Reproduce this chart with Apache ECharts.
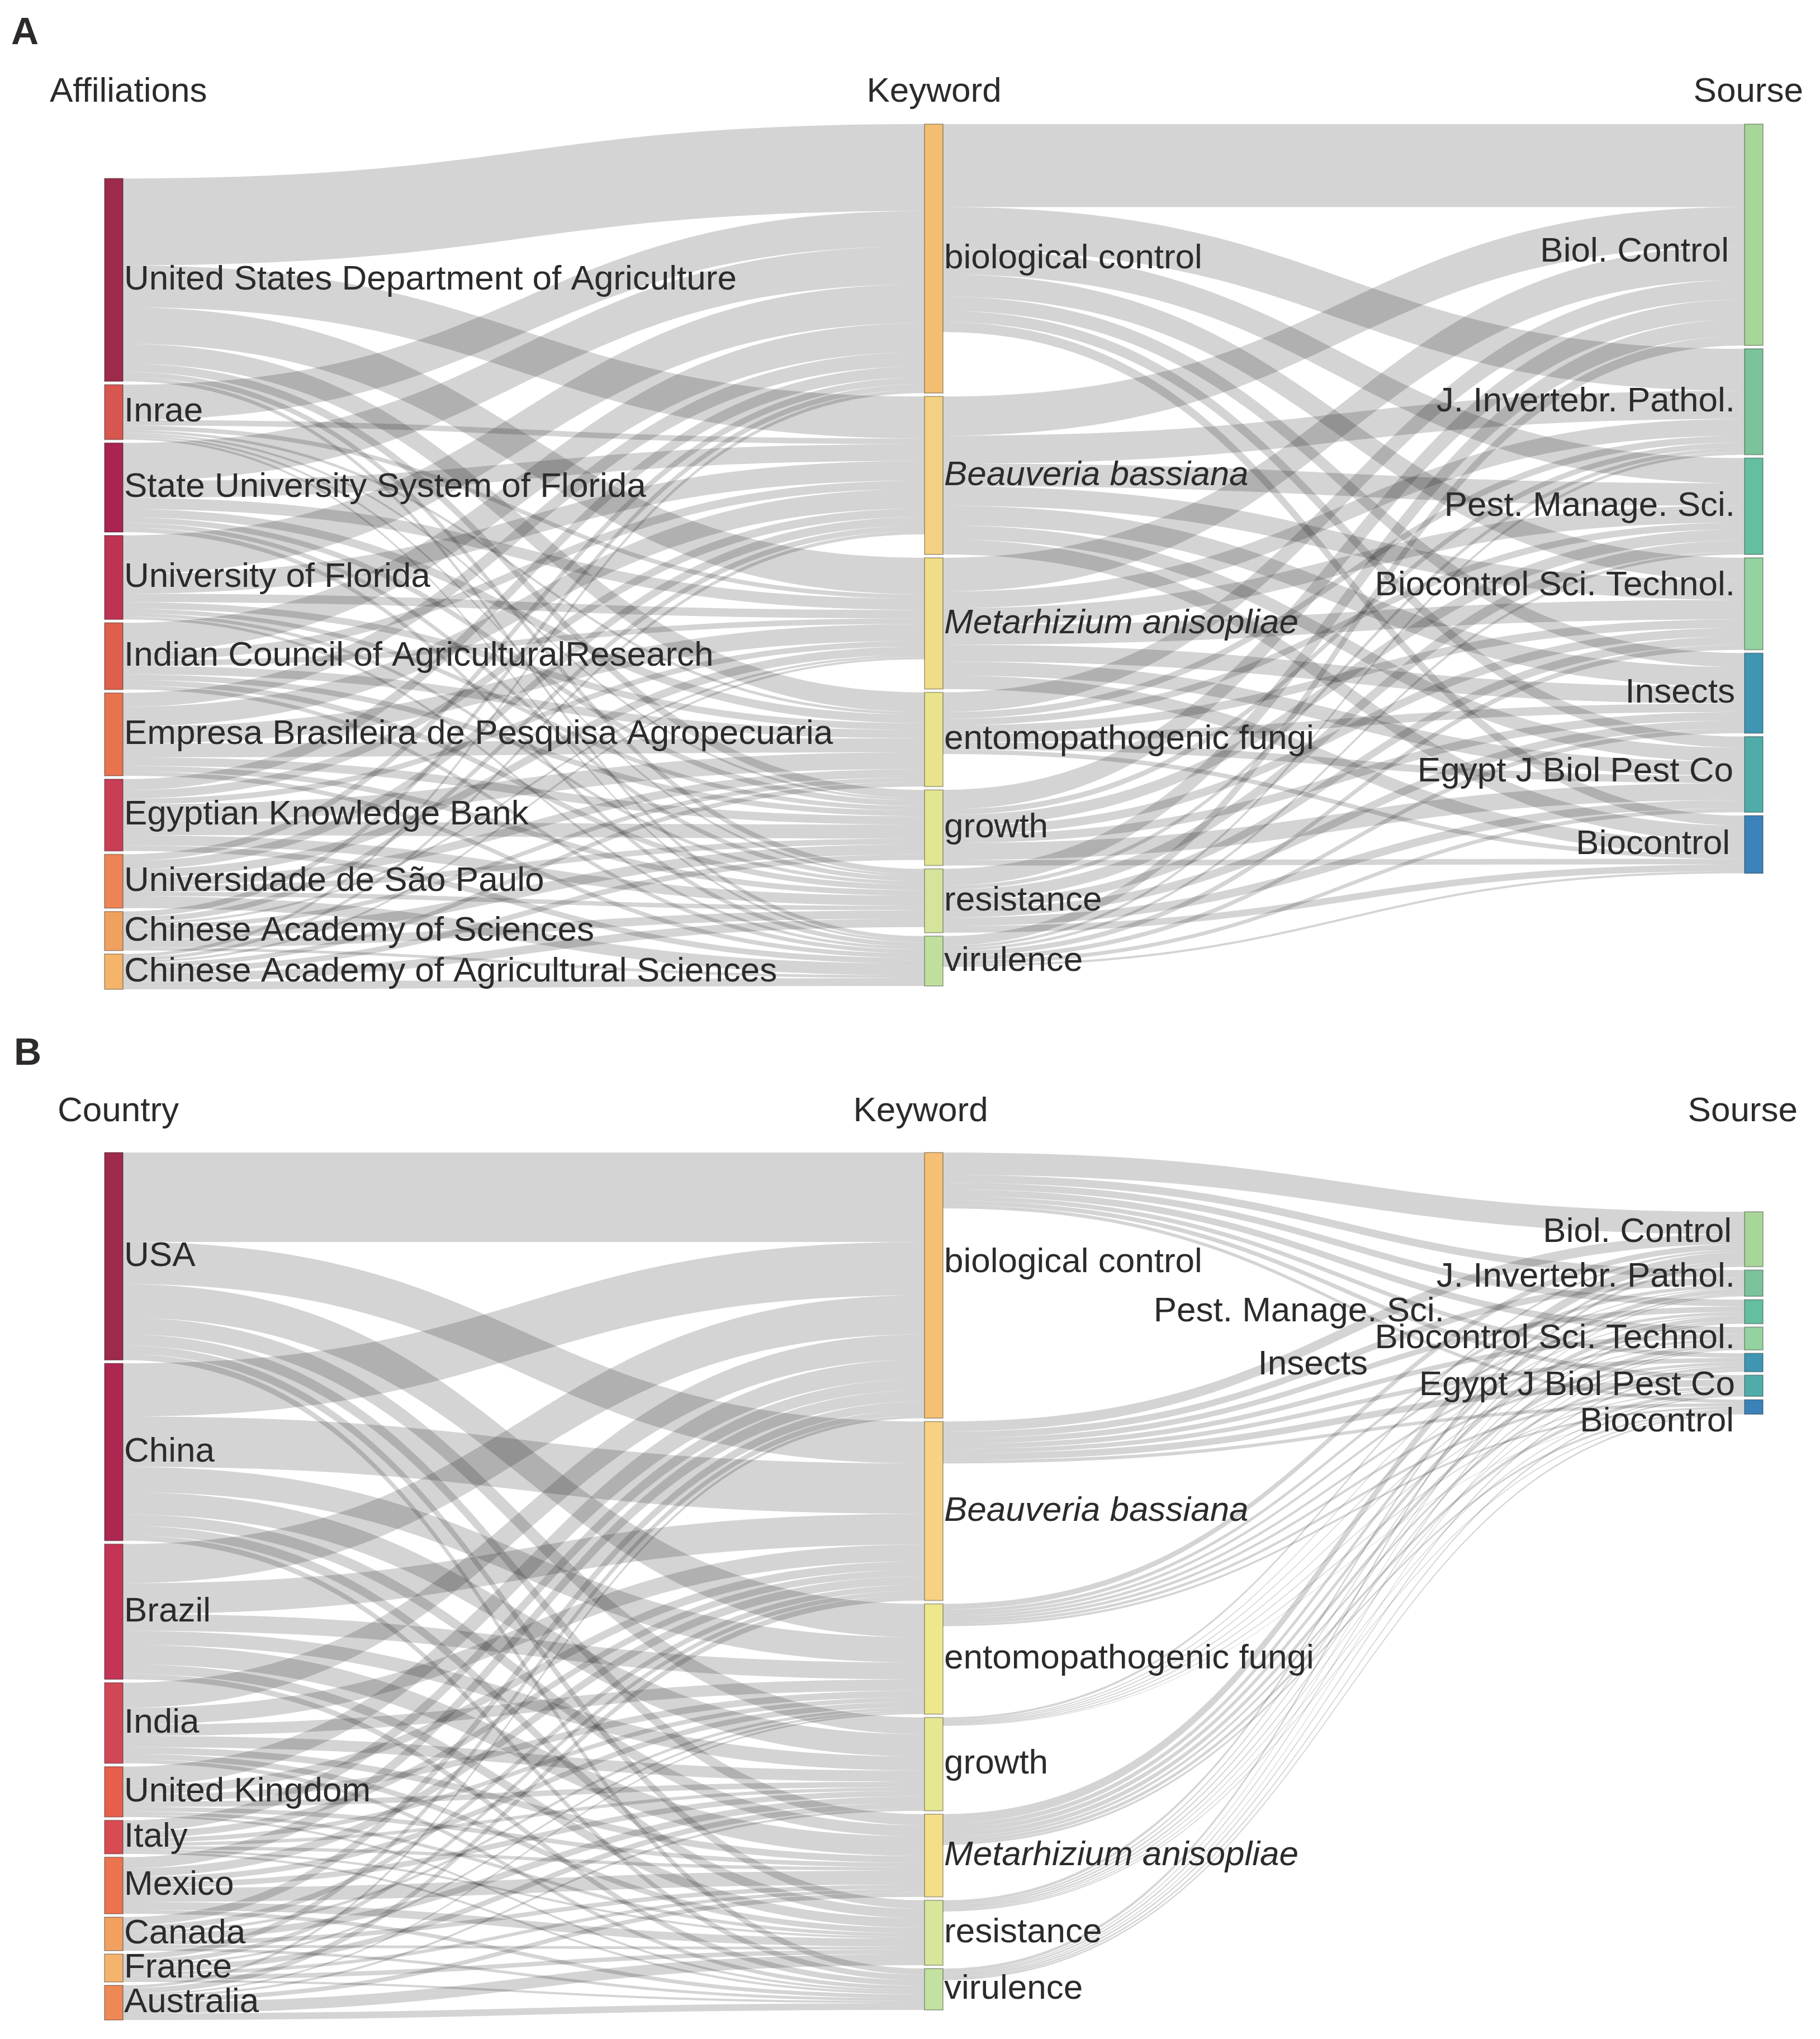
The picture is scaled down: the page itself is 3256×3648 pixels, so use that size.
<!DOCTYPE html>
<html>
<head>
<meta charset="utf-8">
<script src="https://cdn.jsdelivr.net/npm/echarts@6/dist/echarts.min.js"></script>
<style>
html,body{margin:0;padding:0;background:#ffffff;}
#chart{width:3256px;height:3648px;}
</style>
</head>
<body>
<div id="chart"></div>
<script>
// ---------------- DATA (panel A) ----------------
const affiliations = [
  'United States Department of Agriculture',
  'Inrae',
  'State University System of Florida',
  'University of Florida',
  'Indian Council of AgriculturalResearch',
  'Empresa Brasileira de Pesquisa Agropecuaria',
  'Egyptian Knowledge Bank',
  'Universidade de São Paulo',
  'Chinese Academy of Sciences',
  'Chinese Academy of Agricultural Sciences'
];
const keywordsA = ['biological control', 'Beauveria bassiana', 'Metarhizium anisopliae',
  'entomopathogenic fungi', 'growth', 'resistance', 'virulence'];
const sourcesA = ['Biol. Control', 'J. Invertebr. Pathol.', 'Pest. Manage. Sci.',
  'Biocontrol Sci. Technol.', 'Insects', 'Egypt J Biol Pest Co', 'Biocontrol'];
// rows: affiliations, columns: keywordsA
const affiliationKeywordLinks = [
  [155, 75, 65, 35, 15, 10, 7],
  [63, 10, 8, 5, 4, 4, 4],
  [68, 30, 20, 15, 10, 8, 8],
  [69, 35, 15, 12, 8, 6, 5],
  [52, 15, 10, 15, 10, 10, 7],
  [25, 35, 30, 25, 15, 10, 8],
  [20, 15, 10, 30, 25, 18, 10],
  [12, 15, 15, 15, 10, 8, 21],
  [10, 10, 4, 8, 18, 15, 5],
  [6, 6, 4, 8, 10, 15, 14]
];
// rows: keywordsA, columns: sourcesA
const keywordSourceLinksA = [
  [148, 75, 45, 40, 25, 20, 18],
  [70, 50, 40, 35, 35, 25, 27],
  [60, 30, 30, 35, 30, 25, 24],
  [35, 12, 12, 15, 15, 13, 8],
  [35, 10, 20, 15, 15, 30, 10],
  [30, 7, 20, 15, 15, 15, 12],
  [17, 5, 5, 9, 8, 7, 4]
];

// ---------------- DATA (panel B) ----------------
const countries = ['USA', 'China', 'Brazil', 'India', 'United Kingdom', 'Italy',
  'Mexico', 'Canada', 'France', 'Australia'];
const keywordsB = ['biological control', 'Beauveria bassiana', 'entomopathogenic fungi',
  'growth', 'Metarhizium anisopliae', 'resistance', 'virulence'];
const sourcesB = ['Biol. Control', 'J. Invertebr. Pathol.', 'Pest. Manage. Sci.',
  'Biocontrol Sci. Technol.', 'Insects', 'Egypt J Biol Pest Co', 'Biocontrol'];
// rows: countries, columns: keywordsB
const countryKeywordLinks = [
  [160, 75, 60, 30, 20, 15, 11],
  [95, 90, 45, 40, 20, 17, 10],
  [70, 55, 30, 25, 35, 17, 10],
  [45, 30, 20, 20, 12, 10, 7],
  [35, 15, 12, 10, 8, 6, 4],
  [20, 12, 8, 6, 6, 4, 4],
  [20, 15, 10, 10, 25, 14, 7],
  [15, 10, 5, 12, 8, 5, 5],
  [10, 8, 4, 10, 6, 8, 4],
  [5, 10, 3, 4, 8, 20, 12]
];
// rows: keywordsB, columns: sourcesB
const keywordSourceLinksB = [
  [40, 14, 12, 12, 8, 8, 6],
  [18, 12, 10, 9, 8, 12, 6],
  [10, 6, 5, 5, 5, 5, 4],
  [4, 2, 2, 2, 2, 2, 1],
  [16, 8, 8, 8, 5, 6, 4],
  [5, 3, 3, 3, 2, 2, 2],
  [5, 2, 3, 2, 3, 3, 3]
];

// ---------------- STYLES ----------------
const FONT = '"Liberation Sans", Arial, Helvetica, sans-serif';
const TEXT_COLOR = '#2d2a2a';
const colorsAffiliations = ['#9e2a4b', '#d7564f', '#a9244f', '#be3352', '#de5f4b',
  '#e8734f', '#c93d55', '#ec8455', '#f0a05f', '#f4b46a'];
const colorsKeywordsA = ['#f2be70', '#f4d082', '#f1dc87', '#eae38b', '#e3e690', '#d4e59b', '#c0df9d'];
const colorsCountries = ['#9e2a4b', '#ae2751', '#c33455', '#d24756', '#e75f4b', '#d84c51',
  '#eb7350', '#f2a060', '#f5b46e', '#ee8855'];
const colorsKeywordsB = ['#f5c073', '#f6d282', '#eee88c', '#e6e891', '#f4de87', '#d6e69b', '#c3e1a0'];
const colorsSources = ['#a8d699', '#7ac39b', '#64bea0', '#94d2a0', '#3e96b2', '#50aca8', '#3a82b9'];
const italicNames = ['Beauveria bassiana', 'Metarhizium anisopliae'];

// per-panel label tweaks (style only)
const labelTweaksA = {
  'Biol. Control': {distance: 27, offset: [0, 31]},
  'Biocontrol Sci. Technol.': {offset: [0, -32]},
  'Egypt J Biol Pest Co': {distance: 19, offset: [0, -5]},
  'Biocontrol': {distance: 25}
};
const labelTweaksB = {
  'biological control': {offset: [0, -41]},
  'Biol. Control': {distance: 22, offset: [0, -12]},
  'J. Invertebr. Pathol.': {offset: [0, -11]},
  'Pest. Manage. Sci.': {distance: 536},
  'Insects': {distance: 673, offset: [0, 4]},
  'Biocontrol': {distance: 18, offset: [0, 27]}
};

// layout spacers (invisible placeholder nodes that push a column down)
const spacerA = {column: 0, value: 91};
const spacerB = {column: 2, value: 100};

function buildSeries(cfg) {
  const nodes = [];
  const links = [];
  const cols = [cfg.col0, cfg.col1, cfg.col2];
  const colColors = [cfg.c0, cfg.c1, cfg.c2];
  cols.forEach(function (names, depth) {
    if (cfg.spacer.column === depth) {
      nodes.push({
        name: '__spacer' + depth, depth: depth, value: cfg.spacer.value,
        itemStyle: {color: 'rgba(0,0,0,0)', borderWidth: 0},
        label: {show: false}, tooltip: {show: false}
      });
    }
    names.forEach(function (name, i) {
      const lab = {
        position: depth === 2 ? 'left' : 'right',
        distance: depth === 0 ? 1 : (depth === 1 ? 1 : 16)
      };
      if (italicNames.indexOf(name) >= 0) lab.fontStyle = 'italic';
      const tw = (depth === 0 ? null : cfg.tweaks[name]);
      if (tw) {
        if (tw.distance != null) lab.distance = tw.distance;
        if (tw.offset) lab.offset = tw.offset;
      }
      nodes.push({
        name: name, depth: depth,
        itemStyle: {color: colColors[depth][i]},
        label: lab
      });
    });
  });
  cfg.m01.forEach(function (row, i) {
    row.forEach(function (v, j) {
      if (v > 0) links.push({source: cfg.col0[i], target: cfg.col1[j], value: v});
    });
  });
  cfg.m12.forEach(function (row, i) {
    row.forEach(function (v, j) {
      if (v > 0) links.push({source: cfg.col1[i], target: cfg.col2[j], value: v});
    });
  });
  return {
    type: 'sankey',
    left: cfg.left, top: cfg.top, width: cfg.width, height: cfg.height,
    nodeWidth: 33, nodeGap: 6, layoutIterations: 0, nodeAlign: 'justify',
    draggable: false, silent: true,
    emphasis: {disabled: true},
    lineStyle: {color: '#000000', opacity: 0.17, curveness: 0.5},
    itemStyle: {borderColor: 'rgba(0,0,0,0.28)', borderWidth: 2},
    label: {
      show: true, fontSize: 62, fontFamily: FONT, color: TEXT_COLOR,
      textBorderWidth: 0
    },
    data: nodes,
    links: links
  };
}

const seriesA = buildSeries({
  col0: affiliations, col1: keywordsA, col2: sourcesA,
  c0: colorsAffiliations, c1: colorsKeywordsA, c2: colorsSources,
  m01: affiliationKeywordLinks, m12: keywordSourceLinksA,
  spacer: spacerA, tweaks: labelTweaksA,
  left: 187, top: 222, width: 2967, height: 1548
});
const seriesB = buildSeries({
  col0: countries, col1: keywordsB, col2: sourcesB,
  c0: colorsCountries, c1: colorsKeywordsB, c2: colorsSources,
  m01: countryKeywordLinks, m12: keywordSourceLinksB,
  spacer: spacerB, tweaks: labelTweaksB,
  left: 187, top: 2062, width: 2967, height: 1552
});

function txt(text, x, y, align, size, weight) {
  return {
    type: 'text', x: x, y: y, silent: true,
    style: {
      text: text, fill: TEXT_COLOR, align: align, verticalAlign: 'middle',
      font: (weight || 'normal') + ' ' + size + 'px ' + FONT
    }
  };
}

const chart = echarts.init(document.getElementById('chart'), null, {renderer: 'canvas'});
chart.setOption({
  backgroundColor: '#ffffff',
  animation: false,
  tooltip: {show: false},
  graphic: [
    txt('A', 20, 60, 'left', 68, 'bold'),
    txt('Affiliations', 89, 165, 'left', 62),
    txt('Keyword', 1671, 165, 'center', 62),
    txt('Sourse', 3226, 165, 'right', 62),
    txt('B', 25, 1886, 'left', 68, 'bold'),
    txt('Country', 103, 1989, 'left', 62),
    txt('Keyword', 1647, 1989, 'center', 62),
    txt('Sourse', 3216, 1989, 'right', 62)
  ],
  series: [seriesA, seriesB]
});
</script>
</body>
</html>
